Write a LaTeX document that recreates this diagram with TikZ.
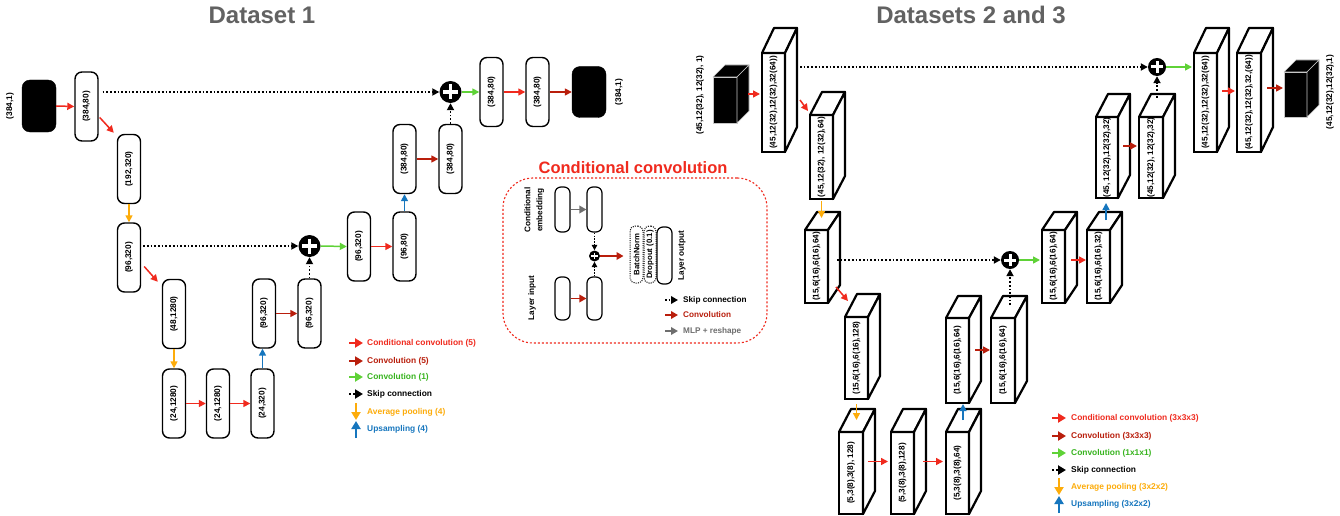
\documentclass[tikz,border=0pt]{standalone}
\usepackage{fontspec}
\setmainfont{Liberation Sans}
\usetikzlibrary{arrows.meta,calc}
\definecolor{cred}{RGB}{240,42,30}
\definecolor{dred}{RGB}{185,30,12}
\definecolor{cgreen}{RGB}{95,210,55}
\definecolor{lgreen}{RGB}{55,180,30}
\definecolor{corange}{RGB}{253,172,10}
\definecolor{cblue}{RGB}{22,118,190}
\definecolor{cgray}{RGB}{110,110,110}
\definecolor{tgray}{RGB}{98,98,98}
\newcommand{\fs}[1]{\fontsize{#1}{#1}\selectfont}
\newcommand{\cubebox}[9]{%
  \node[#1front, minimum width=#5, minimum height=#6, anchor=north west] (#2) at (#3,#4) {\rotatebox{90}{#9}};
  \filldraw[#1face] (#2.north west) -- ++(#7,-#8) -- ++(#5,0) -- (#2.north east) -- cycle;
  \filldraw[#1face] (#2.north east) -- ++(#7,-#8) -- ++(0,#6) -- (#2.south east) -- cycle;
}
\newcommand{\plusn}[6]{%
  \node[circle, fill=black, inner sep=0pt, minimum size=#4] (#1) at (#2,#3) {};
  \draw[white, line width=#6] ($(#1)+(-#5,0)$) -- ($(#1)+(#5,0)$);
  \draw[white, line width=#6] ($(#1)+(0,-#5)$) -- ($(#1)+(0,#5)$);
}
\begin{document}
\begin{tikzpicture}[x=1pt,y=-1pt,
  ar/.style={line width=1.5pt,-{Triangle[length=7pt,width=7pt]}},
  condarr/.style={ar,color=cred},
  convarr/.style={ar,color=dred},
  onearr/.style={ar,color=cgreen},
  poolarr/.style={ar,color=corange},
  uparr/.style={ar,color=cblue},
  skiparr/.style={line width=1.7pt,dash pattern=on 1.7pt off 2pt,-{Triangle[length=7pt,width=7pt]},color=black},
  inarr/.style={line width=1.8pt,-{Triangle[length=7pt,width=7.5pt]}},
  inskip/.style={line width=1.3pt,dash pattern=on 1.3pt off 1.6pt,-{Triangle[length=5.5pt,width=5.5pt]},color=black},
  legarr/.style={line width=2.3pt,-{Triangle[length=8pt,width=9pt]}},
  legskip/.style={line width=2.2pt,dash pattern=on 2.2pt off 2.2pt,-{Triangle[length=8pt,width=9pt]},color=black},
  rbox/.style={draw,line width=1.4pt,rounded corners=7pt,minimum width=23pt,minimum height=69pt,inner sep=0pt,fill=white,font=\bfseries\fs{8.3}},
  blackbox/.style={fill=black,draw=black,rounded corners=8pt,minimum width=34pt,minimum height=52pt,inner sep=0pt},
  lbl/.style={font=\bfseries\fs{8.3},inner sep=0pt},
  leg/.style={anchor=west,font=\bfseries\fs{8.4},inner sep=0pt},
  title/.style={font=\bfseries\fs{24},text=tgray},
  sbox/.style={draw,line width=1.2pt,rounded corners=6pt,minimum width=15pt,minimum height=45pt,inner sep=0pt,fill=white},
  dbox/.style={draw,line width=1pt,dash pattern=on 1pt off 1.2pt,rounded corners=5pt,minimum width=13pt,minimum height=57pt,inner sep=0pt,font=\bfseries\fs{7.8}},
  wfront/.style={draw,line width=2.2pt,fill=white,inner sep=0pt,outer sep=0pt,font=\bfseries\fs{8.2}},
  wface/.style={draw,line width=2.2pt,fill=white,line join=round},
  bfront/.style={draw=gray!45,line width=0.6pt,fill=black,inner sep=0pt,outer sep=0pt},
  bface/.style={draw=gray!45,line width=0.6pt,fill=black,line join=round}
]
\fill[white] (0,0) rectangle (1340,516);
\useasboundingbox (0,0) rectangle (1340,516);

% titles
\node[title] (t1) at (262,15) {Dataset 1};
\node[title] (t2) at (971,15) {Datasets 2 and 3};

% ---------------- Dataset 1 ----------------
\node[blackbox] (L0) at (39,106) {};
\node[lbl] (L0t) at (10,106) {\rotatebox{90}{(384,1)}};
\node[rbox] (L1) at (86.5,106.5) {\rotatebox{90}{(384,80)}};
\node[rbox] (L2) at (129,169) {\rotatebox{90}{(192,320)}};
\node[rbox] (L3) at (129,257.5) {\rotatebox{90}{(96,320)}};
\node[rbox] (L4) at (174,314) {\rotatebox{90}{(48,1280)}};
\node[rbox] (L5) at (174,403.5) {\rotatebox{90}{(24,1280)}};
\node[rbox] (L6) at (218,403.5) {\rotatebox{90}{(24,1280)}};
\node[rbox] (L7) at (262.5,403.5) {\rotatebox{90}{(24,320)}};
\node[rbox] (L8) at (264,313.5) {\rotatebox{90}{(96,320)}};
\node[rbox] (L9) at (309.5,313.5) {\rotatebox{90}{(96,320)}};
\plusn{P1}{309.5}{246}{22pt}{7.5}{3.5pt}
\node[rbox] (L10) at (359,246.5) {\rotatebox{90}{(96,320)}};
\node[rbox] (L11) at (404.5,246.5) {\rotatebox{90}{(96,80)}};
\node[rbox] (L12) at (404.5,159) {\rotatebox{90}{(384,80)}};
\node[rbox] (L13) at (450.5,159) {\rotatebox{90}{(384,80)}};
\plusn{P2}{450.5}{92}{22pt}{7.5}{3.5pt}
\node[rbox] (L14) at (491.5,92) {\rotatebox{90}{(384,80)}};
\node[rbox] (L15) at (537.5,92) {\rotatebox{90}{(384,80)}};
\node[blackbox,minimum height=51pt] (L16) at (589,92) {};
\node[lbl] (L16t) at (619,92) {\rotatebox{90}{(384,1)}};

\draw[condarr] (L0.east) -- (L1.west);
\draw[condarr] ($(L1.east)+(1,11)$) -- ($(L2.north west)+(-3,-1)$);
\draw[poolarr] (L2.south) -- (L3.north);
\draw[condarr] ($(L3.east)+(3,9)$) -- ($(L4.north west)+(-4,3)$);
\draw[skiparr] ($(L3.east |- P1)+(2,0)$) -- (P1.west);
\draw[poolarr] (L4.south) -- (L5.north);
\draw[condarr] (L5.east) -- (L6.west);
\draw[condarr] (L6.east) -- (L7.west);
\draw[uparr] (L7.north) -- (L7.north |- L8.south);
\draw[convarr] (L8.east) -- (L9.west);
\draw[skiparr] (L9.north) -- (P1.south);
\draw[onearr] (P1.east) -- (L10.west);
\draw[condarr] (L10.east) -- (L11.west);
\draw[uparr] (L11.north) -- (L12.south);
\draw[convarr] (L12.east) -- (L13.west);
\draw[skiparr] (L13.north) -- (P2.south);
\draw[skiparr] ($(L1.east |- P2)+(4,0)$) -- (P2.west);
\draw[onearr] (P2.east) -- (L14.west);
\draw[condarr] (L14.east) -- (L15.west);
\draw[convarr] (L15.east) -- (L16.west);

% legend 1
\node[leg,text=cred] (la1) at (367,343) {Conditional convolution (5)};
\node[leg,text=dred] (la2) at (367,361) {Convolution (5)};
\node[leg,text=lgreen] (la3) at (367,377) {Convolution (1)};
\node[leg,text=black] (la4) at (367,394) {Skip connection};
\node[leg,text=corange] (la5) at (367,412) {Average pooling (4)};
\node[leg,text=cblue] (la6) at (367,429) {Upsampling (4)};
\draw[legarr,color=cred] ($(la1.west)+(-18,0)$) -- ($(la1.west)+(-4,0)$);
\draw[legarr,color=dred] ($(la2.west)+(-18,0)$) -- ($(la2.west)+(-4,0)$);
\draw[legarr,color=cgreen] ($(la3.west)+(-18,0)$) -- ($(la3.west)+(-4,0)$);
\draw[legskip] ($(la4.west)+(-18,0)$) -- ($(la4.west)+(-4,0)$);
\draw[legarr,color=corange] ($(la5.west)+(-11,-9)$) -- ($(la5.west)+(-11,8)$);
\draw[legarr,color=cblue] ($(la6.west)+(-11,9)$) -- ($(la6.west)+(-11,-8)$);

% ---------------- Conditional convolution ----------------
\node[draw=cred,dash pattern=on 2pt off 2pt,line width=1.1pt,rounded corners=30pt,minimum width=264pt,minimum height=165pt] (cc) at (635,260.5) {};
\node[font=\bfseries\fs{16.5},text=cred] (cct) at (633,168) {Conditional convolution};
\node[sbox] (e1) at (562.5,209.5) {};
\node[sbox] (e2) at (594.5,209.5) {};
\node[sbox,minimum height=43pt] (i1) at (562.5,298.5) {};
\node[sbox,minimum height=43pt] (i2) at (594.5,298.5) {};
\plusn{P5}{594.5}{256}{11pt}{3.3}{1.6pt}
\node[dbox] (bn) at (636.5,254.5) {\rotatebox{90}{BatchNorm}};
\node[dbox,minimum width=12pt] (dr) at (650,254.5) {\rotatebox{90}{Dropout (0.1)}};
\node[sbox,minimum height=57pt] (lo) at (664.5,255.5) {};
\node[lbl,font=\bfseries\fs{8.2}] (lot) at (682,255.5) {\rotatebox{90}{Layer output}};
\node[lbl,font=\bfseries\fs{8.2}] (cet) at (534,210) {\rotatebox{90}{\fontsize{8.2}{12}\selectfont\begin{tabular}{@{}c@{}}Conditional\\embedding\end{tabular}}};
\node[lbl,font=\bfseries\fs{8.2}] (lit) at (532,298) {\rotatebox{90}{Layer input}};
\draw[inarr,color=cgray] (e1.east) -- (e2.west);
\draw[inarr,color=dred] (i1.east) -- (i2.west);
\draw[inskip] (e2.south) -- (P5.north);
\draw[inskip] (i2.north) -- (P5.south);
\draw[inarr,color=dred] (P5.east) -- ($(bn.west |- P5)+(-6,0)$);
\node[leg,font=\bfseries\fs{8.2},text=black] (k1) at (683,300) {Skip connection};
\node[leg,font=\bfseries\fs{8.2},text=dred] (k2) at (683,315) {Convolution};
\node[leg,font=\bfseries\fs{8.2},text=cgray] (k3) at (683,331) {MLP + reshape};
\draw[inskip,line width=1.8pt,dash pattern=on 1.8pt off 1.8pt,-{Triangle[length=7pt,width=7.5pt]}] ($(k1.west)+(-18,0)$) -- ($(k1.west)+(-5,0)$);
\draw[inarr,color=dred] ($(k2.west)+(-18,0)$) -- ($(k2.west)+(-5,0)$);
\draw[inarr,color=cgray] ($(k3.west)+(-18,0)$) -- ($(k3.west)+(-5,0)$);

% ---------------- Datasets 2 and 3 ----------------
\cubebox{b}{in}{713}{77}{24}{46}{12}{12}{}
\node[lbl] (int) at (700,95) {\rotatebox{90}{(45,12(32), 12(32), 1)}};
\cubebox{w}{c1}{762}{53}{23}{99}{12}{25}{(45,12(32),12(32),32(64))}
\cubebox{w}{c2}{810}{115}{23}{84}{12}{23}{(45,12(32), 12(32),64)}
\cubebox{w}{c3}{805}{230}{23}{73}{12}{18}{(15,6(16),6(16),64)}
\cubebox{w}{c4}{845}{317}{23}{82}{12}{23}{(15,6(16),6(16),128)}
\cubebox{w}{c5}{839}{432}{24}{82}{12}{23}{(5,3(8),3(8), 128)}
\cubebox{w}{c6}{891}{432}{23}{82}{12}{23}{(5,3(8),3(8),128)}
\cubebox{w}{c7}{946}{432}{23}{82}{12}{23}{(5,3(8),3(8),64)}
\cubebox{w}{c8}{946}{318}{23}{85}{12}{22}{(15,6(16),6(16),64)}
\cubebox{w}{c9}{991}{318}{24}{85}{12}{22}{(15,6(16),6(16),64)}
\cubebox{w}{c10}{1042}{230}{23}{73}{12}{18}{(15,6(16),6(16),64)}
\cubebox{w}{c11}{1087}{230}{23}{73}{12}{18}{(15,6(16),6(16),32)}
\cubebox{w}{c12}{1096}{117}{22}{81}{12}{23}{(45, 12(32),12(32),32)}
\cubebox{w}{c13}{1139}{117}{24}{81}{12}{23}{(45,12(32), 12(32),32)}
\cubebox{w}{c14}{1194}{53}{23}{99}{12}{25}{(45,12(32),12(32),32(64))}
\cubebox{w}{c15}{1237}{53}{24}{99}{12}{25}{(45,12(32),12(32),32,(64))}
\cubebox{b}{out}{1284}{72}{23}{45}{12}{12}{}
\node[lbl] (outt) at (1330,92) {\rotatebox{90}{(45,12(32),12(32),1)}};
\plusn{P3}{1157}{67}{18pt}{6}{3pt}
\plusn{P4}{1010}{260}{18pt}{6}{3pt}

\draw[condarr] ($(in.east)+(11,-6)$) -- ($(c1.west)+(-2,-8.5)$);
\draw[condarr] ($(c1.north east)+(15,47)$) -- ($(c2.north west)+(-2,-4)$);
\draw[skiparr] ($(c1.east |- P3)+(15,0)$) -- (P3.west);
\draw[poolarr] ($(c2.south)+(0,2)$) -- ($(c2.south |- c3.north)+(0,-12)$);
\draw[skiparr] ($(c3.east |- P4)+(9,0)$) -- (P4.west);
\draw[condarr] ($(c3.south east)+(8,-16)$) -- ($(c4.north west)+(3,-16)$);
\draw[poolarr] ($(c4.south)+(0,5)$) -- ($(c4.south |- c5.north)+(0,-12)$);
\draw[condarr] ($(c5.east)+(5,-11.5)$) -- ($(c6.west)+(-3,-11.5)$);
\draw[condarr] ($(c6.east)+(9,-11.5)$) -- ($(c7.west)+(-3,-11.5)$);
\draw[uparr] ($(c7.north)+(5.5,-12)$) -- ($(c8.south)+(5.5,1)$);
\draw[convarr] ($(c8.east)+(6,-10.5)$) -- ($(c9.west)+(-1,-10.5)$);
\draw[skiparr] ($(c9.north)+(7,-13)$) -- (P4.south);
\draw[onearr] (P4.east) -- ($(c10.west |- P4)+(-2,0)$);
\draw[condarr] ($(c10.east)+(6,-6.5)$) -- ($(c11.west)+(-1,-6.5)$);
\draw[uparr] ($(c11.north)+(7.5,-10)$) -- ($(c12.south)+(-1,5)$);
\draw[convarr] ($(c12.east)+(5,-11.5)$) -- ($(c13.west)+(-2,-11.5)$);
\draw[skiparr] ($(c13.north)+(6,-19)$) -- (P3.south);
\draw[onearr] (P3.east) -- ($(c14.west |- P3)+(-2,0)$);
\draw[condarr] ($(c14.east)+(5,-11.5)$) -- ($(c15.west)+(-2,-11.5)$);
\draw[convarr] ($(c15.east)+(6,-14.5)$) -- ($(out.west)+(-1,-6.5)$);

% legend 2
\node[leg,text=cred] (lb1) at (1071,418) {Conditional convolution (3x3x3)};
\node[leg,text=dred] (lb2) at (1071,436) {Convolution (3x3x3)};
\node[leg,text=lgreen] (lb3) at (1071,453) {Convolution (1x1x1)};
\node[leg,text=black] (lb4) at (1071,470) {Skip connection};
\node[leg,text=corange] (lb5) at (1071,487) {Average pooling (3x2x2)};
\node[leg,text=cblue] (lb6) at (1071,504) {Upsampling (3x2x2)};
\draw[legarr,color=cred] ($(lb1.west)+(-19,0)$) -- ($(lb1.west)+(-5,0)$);
\draw[legarr,color=dred] ($(lb2.west)+(-19,0)$) -- ($(lb2.west)+(-5,0)$);
\draw[legarr,color=cgreen] ($(lb3.west)+(-19,0)$) -- ($(lb3.west)+(-5,0)$);
\draw[legskip] ($(lb4.west)+(-19,0)$) -- ($(lb4.west)+(-5,0)$);
\draw[legarr,color=corange] ($(lb5.west)+(-12,-9)$) -- ($(lb5.west)+(-12,8)$);
\draw[legarr,color=cblue] ($(lb6.west)+(-12,9)$) -- ($(lb6.west)+(-12,-8)$);
\end{tikzpicture}
\end{document}
